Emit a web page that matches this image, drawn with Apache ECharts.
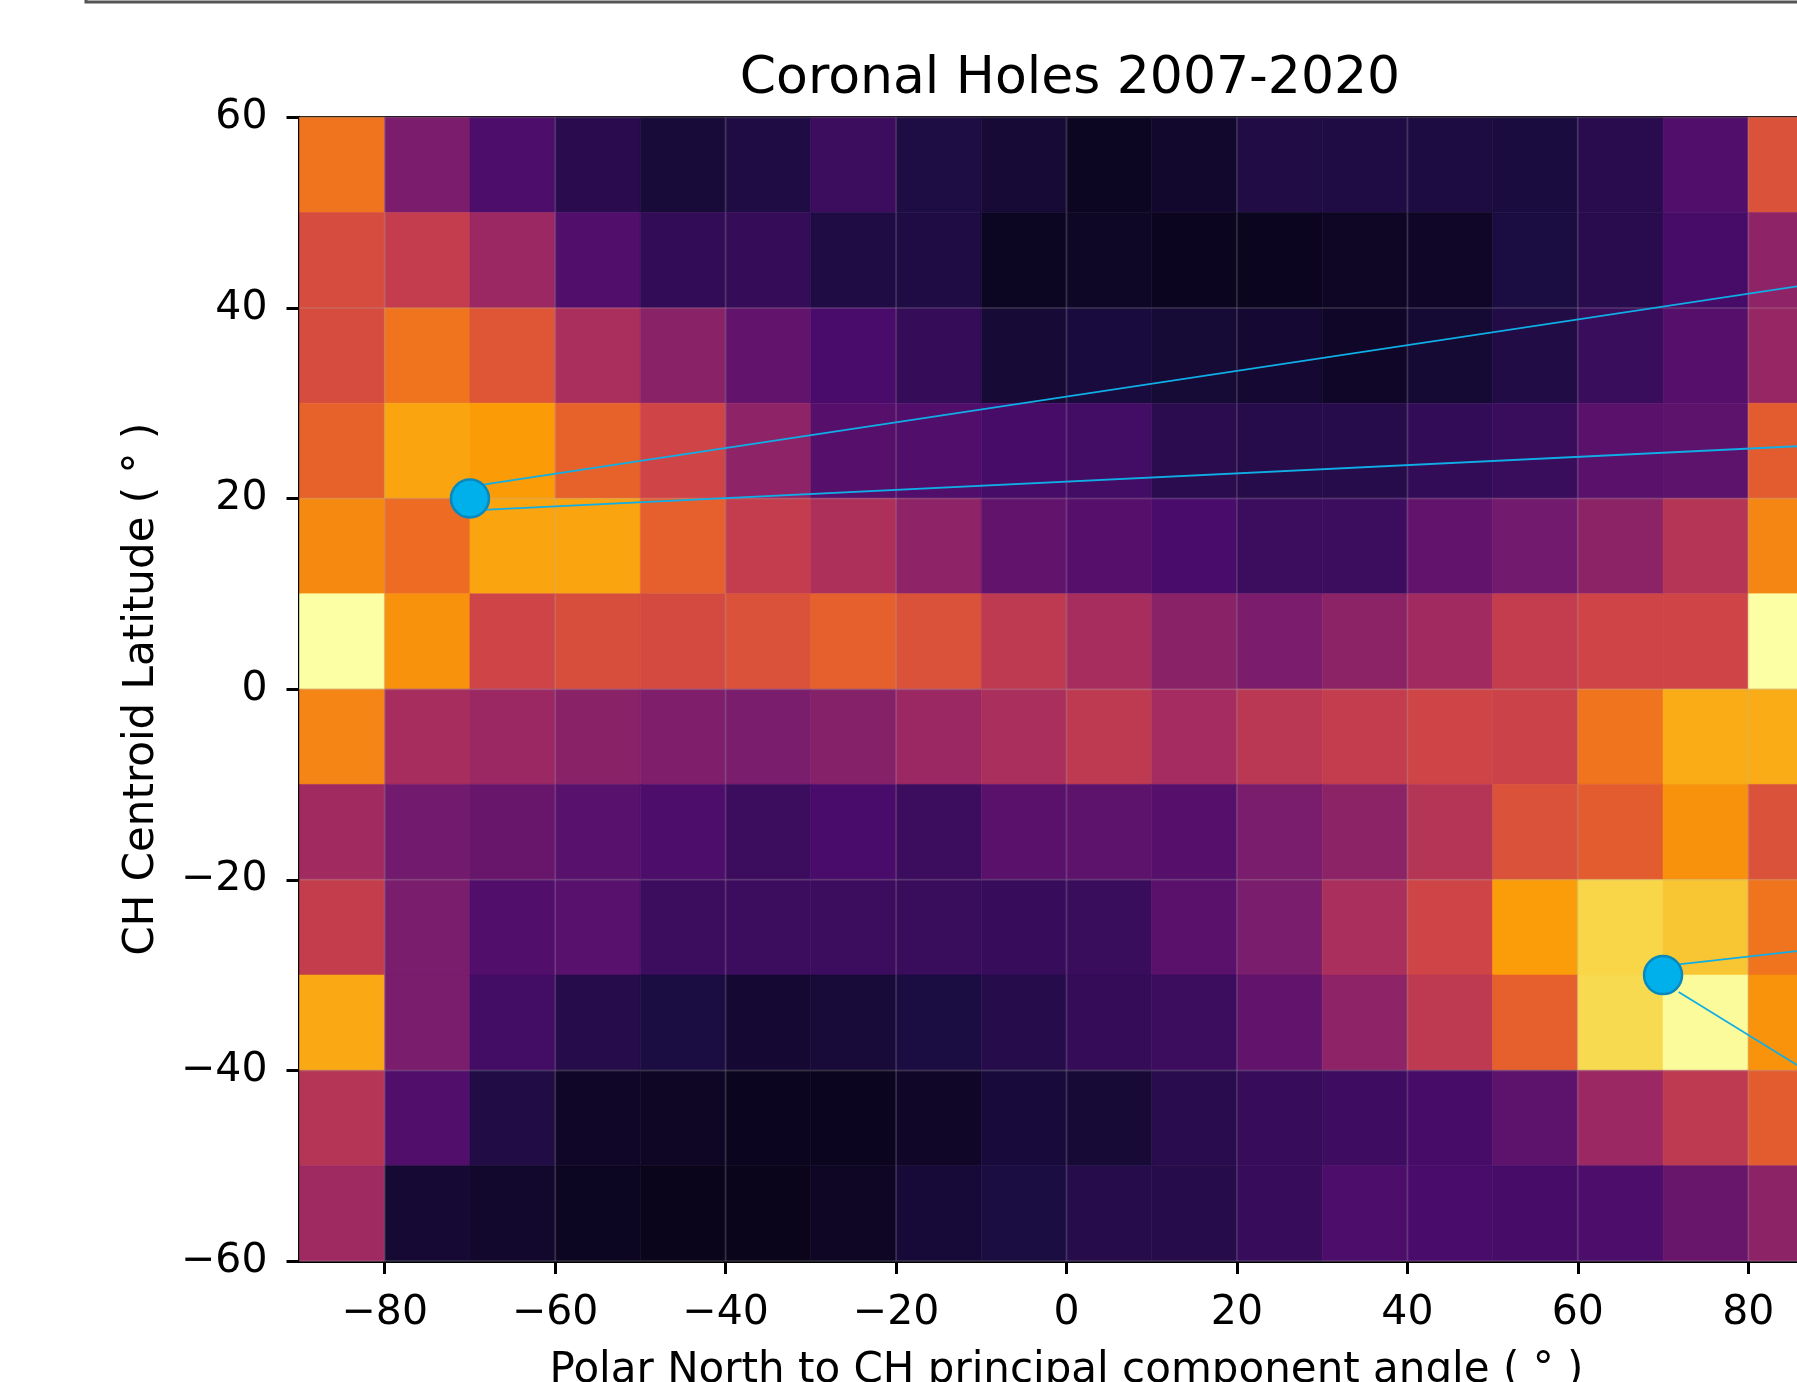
<!DOCTYPE html>
<html>
<head>
<meta charset="utf-8">
<script src="https://cdn.jsdelivr.net/npm/echarts@6/dist/echarts.min.js"></script>
<style>
  body { margin: 0; background: #ffffff; }
  #chart { width: 1797px; height: 1382px; }
</style>
</head>
<body>
<div id="chart"></div>
<script>
// bin centres (degrees)
const lonCenters = [-85, -75, -65, -55, -45, -35, -25, -15, -5, 5, 15, 25, 35, 45, 55, 65, 75, 85];
const latCenters = [55, 45, 35, 25, 15, 5, -5, -15, -25, -35, -45, -55];
const binSize = 10;

// relative CH density per bin, one row per latitude band (top to bottom)
const density = [
  [69, 34, 23, 14.6, 9.7, 12.2, 18.8, 11.8, 9.3, 5.5, 7.5, 12.5, 12.2, 11.3, 10.8, 14.4, 24, 59.8],
  [58, 52.3, 42, 24, 16.6, 17, 12, 12, 5.4, 6.2, 5, 5, 6, 6.6, 11.1, 14.4, 21.5, 38.8],
  [58, 69, 61, 46, 37.8, 28.1, 22.2, 17, 9.3, 10.5, 9.2, 8.5, 6.6, 8.8, 12.5, 18.3, 25, 41],
  [64.6, 79.7, 78, 64.6, 55.6, 38.8, 25, 24, 21.5, 20.6, 14.8, 13.6, 13.9, 16.8, 18.3, 25.9, 26.9, 62.8],
  [74.1, 67.1, 79.7, 79.7, 64, 52.3, 46.5, 38.8, 28.1, 25, 22.2, 19, 19, 28.1, 31.9, 38.3, 48.6, 73],
  [100, 75.6, 55.6, 58.6, 57.4, 59.8, 64, 59.8, 50.9, 45, 37.8, 34, 38.3, 43.5, 52.3, 55.6, 55.6, 100],
  [72.8, 45, 42, 37.8, 35, 33.8, 36.5, 42, 46, 50.9, 44.5, 50, 52.3, 55.6, 54.5, 69, 81.3, 81.3],
  [43.5, 31.9, 29.4, 25.5, 23, 19, 22.2, 19, 25.9, 26.9, 25, 33.8, 38.3, 48.6, 59.8, 62.8, 75.6, 59.8],
  [52.5, 33.8, 24, 25.5, 19, 19, 19, 18.3, 17.7, 18.3, 25.9, 33.8, 46, 55.6, 78.2, 90, 86.7, 69],
  [80.6, 33.8, 20.6, 13.6, 11.1, 8.5, 9.7, 11.1, 14, 17, 19, 28.1, 38.8, 50.9, 64, 91, 99, 76],
  [48.6, 24, 12.5, 6.6, 5.8, 5, 5, 6.6, 10, 9.3, 14.4, 17.7, 19.4, 21.5, 26.9, 42, 50.9, 62.8],
  [43, 9, 7.5, 5.4, 4.2, 4.2, 6, 9.5, 11.1, 13.6, 13.6, 17.7, 23, 22.2, 21.5, 23, 29.4, 38.3]
];

const xTicks = [-80, -60, -40, -20, 0, 20, 40, 60, 80];
const yTicks = [-60, -40, -20, 0, 20, 40, 60];

// highlighted bins and their connector lines
const markerPts = [[-70, 20], [70, -30]];
const connectors = [
  [[-68.45, 21.46], [90, 42.83]],
  [[-68.45, 18.8], [90, 25.67]],
  [[71.83, -28.88], [90, -27.05]],
  [[71.83, -31.78], [90, -41.8]]
];

const inferno = ['#000004', '#1b0c41', '#4a0c6b', '#781c6d', '#a52c60',
                 '#cf4446', '#ed6925', '#fb9b06', '#f7d13d', '#fcffa4'];

const cells = [];
density.forEach((row, r) => {
  row.forEach((v, c) => cells.push([lonCenters[c], latCenters[r], v]));
});

const gridMarks = xTicks.map(v => [v, 0, 0]).concat(yTicks.map(v => [0, v, 1]));

const fmt = v => (v < 0 ? '\u2212' + Math.abs(v) : '' + v);
const font = 'DejaVu Sans';

const chart = echarts.init(document.getElementById('chart'));
const option = {
  animation: false,
  backgroundColor: '#ffffff',
  title: {
    text: 'Coronal Holes 2007-2020',
    left: 1065,
    top: 48,
    textAlign: 'center',
    textStyle: { fontFamily: font, fontSize: 52, fontWeight: 'normal', color: '#000' }
  },
  graphic: [{
    type: 'rect',
    shape: { x: 86, y: -10, width: 1800, height: 12 },
    style: { fill: null, stroke: '#555555', lineWidth: 3 },
    silent: true
  }],
  grid: {
    left: 299.5,
    top: 117.3,
    right: -36.5,
    bottom: 121,
    outerBoundsMode: 'none'
  },
  visualMap: {
    type: 'continuous',
    show: false,
    min: 0,
    max: 100,
    dimension: 2,
    seriesIndex: 0,
    inRange: { color: inferno }
  },
  xAxis: [{
    type: 'value',
    min: -90,
    max: 90,
    name: 'Polar North to CH principal component angle ( \u00b0 )',
    nameLocation: 'middle',
    nameGap: 89,
    nameTextStyle: { fontFamily: font, fontSize: 42, color: '#000' },
    axisLine: { onZero: false, lineStyle: { color: '#000', width: 3 } },
    axisTick: { customValues: xTicks, length: 13, lineStyle: { color: '#000', width: 3 } },
    axisLabel: { customValues: xTicks, formatter: fmt, margin: 32, fontFamily: font, fontSize: 41, color: '#000' },
    splitLine: { show: false }
  }, {
    type: 'value',
    position: 'top',
    min: -90,
    max: 90,
    axisLine: { show: true, onZero: false, lineStyle: { color: '#000', width: 3 } },
    axisTick: { show: false },
    axisLabel: { show: false },
    splitLine: { show: false }
  }],
  yAxis: {
    type: 'value',
    min: -60,
    max: 60,
    interval: 20,
    name: 'CH Centroid Latitude ( \u00b0 )',
    nameLocation: 'middle',
    nameGap: 136,
    nameTextStyle: { fontFamily: font, fontSize: 42, color: '#000' },
    axisLine: { show: true, onZero: false, lineStyle: { color: '#000', width: 3 } },
    axisTick: { show: true, length: 13, lineStyle: { color: '#000', width: 3 } },
    axisLabel: { formatter: fmt, margin: 32, fontFamily: font, fontSize: 41, color: '#000' },
    splitLine: { show: false }
  },
  series: [
    {
      type: 'custom',
      name: 'density',
      data: cells,
      encode: { x: 0, y: 1 },
      renderItem: function (params, api) {
        const x = api.value(0), y = api.value(1);
        const p0 = api.coord([x - binSize / 2, y + binSize / 2]);
        const p1 = api.coord([x + binSize / 2, y - binSize / 2]);
        const col = api.visual('color');
        return {
          type: 'rect',
          shape: { x: p0[0], y: p0[1], width: p1[0] - p0[0], height: p1[1] - p0[1] },
          style: { fill: col, stroke: col, lineWidth: 0.6 }
        };
      },
      z: 1
    },
    {
      type: 'custom',
      name: 'grid',
      data: gridMarks,
      encode: { x: 0, y: 1 },
      silent: true,
      renderItem: function (params, api) {
        const cs = params.coordSys;
        const p = api.coord([api.value(0), api.value(1)]);
        const shape = api.value(2) === 0
          ? { x1: p[0], y1: cs.y, x2: p[0], y2: cs.y + cs.height }
          : { x1: cs.x, y1: p[1], x2: cs.x + cs.width, y2: p[1] };
        return { type: 'line', shape: shape, style: { stroke: 'rgba(176,176,176,0.2)', lineWidth: 2 } };
      },
      z: 2
    }
  ].concat(connectors.map(seg => ({
    type: 'line',
    data: seg,
    showSymbol: false,
    symbol: 'none',
    lineStyle: { color: '#10aee6', width: 1.8 },
    z: 3
  }))).concat([{
    type: 'scatter',
    data: markerPts,
    symbolSize: 38,
    itemStyle: { color: '#00b0ea', borderColor: '#0888bd', borderWidth: 2.5, opacity: 1 },
    z: 4
  }])
};
chart.setOption(option);
</script>
</body>
</html>
